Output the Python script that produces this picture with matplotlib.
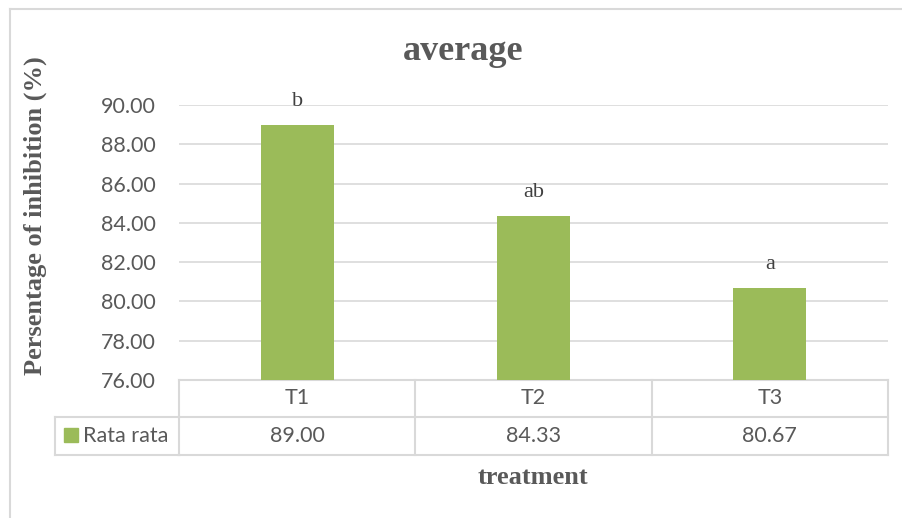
import matplotlib
matplotlib.use("Agg")
import matplotlib.pyplot as plt
import matplotlib.transforms as mtransforms
from matplotlib.patches import Rectangle
from matplotlib.lines import Line2D

categories = ["T1", "T2", "T3"]
values = [89.00, 84.33, 80.67]
letters = ["b", "ab", "a"]
series_name = "Rata rata"
yticks = [76, 78, 80, 82, 84, 86, 88, 90]

GREEN = "#9BBB59"
GRID = "#D9D9D9"
TXT = "#595959"
SERIF = "Liberation Serif"
SANS = "Lato"

W, H = 902, 518
fig = plt.figure(figsize=(W / 100, H / 100), dpi=100)


def fx(px):
    return px / W


def fy(py):
    return 1 - py / H


# outer chart frame (only top and left edges visible)
fig.add_artist(Line2D([fx(10), 1.0], [fy(9), fy(9)], color=GRID, lw=1.5))
fig.add_artist(Line2D([fx(10), fx(10)], [fy(9), 0.0], color=GRID, lw=1.5))

ax = fig.add_axes([fx(179), fy(380), fx(888) - fx(179), fy(105) - fy(380)])
x = list(range(len(categories)))
ax.bar(x, values, width=0.31, color=GREEN, zorder=3)
ax.set_xlim(-0.5, len(categories) - 0.5)
ax.set_ylim(yticks[0], yticks[-1])
ax.set_yticks(yticks)
ax.set_yticklabels([f"{v:.2f}" for v in yticks], fontsize=15.5, color=TXT, family=SANS)
ax.tick_params(axis="y", length=0, pad=17)
ax.set_xticks([])
ax.grid(axis="y", color=GRID, lw=1.2, zorder=0)
for s in ax.spines.values():
    s.set_visible(False)

for xi, v, lab in zip(x, values, letters):
    ax.annotate(lab, (xi, v), xytext=(0, 17), textcoords="offset points",
                ha="center", va="center", fontsize=16, color="#404040", family=SERIF)

# data table under the axis
tr = mtransforms.blended_transform_factory(ax.transData, ax.transAxes)
ah = 380 - 105
r0, r1, r2 = 0.0, -(417 - 380) / ah, -(455 - 380) / ah
edges = [-0.5 + i for i in range(len(categories) + 1)]
lkw = dict(color=GRID, lw=1.5, clip_on=False, transform=tr)
ax.plot([edges[0], edges[-1]], [r0, r0], **lkw)
for yy in (r1, r2):
    ax.plot([edges[0], edges[-1]], [yy, yy], **lkw)
for e in edges:
    ax.plot([e, e], [r0, r2], **lkw)
for xi, c, v in zip(x, categories, values):
    ax.text(xi, (r0 + r1) / 2, c, transform=tr, ha="center", va="center",
            fontsize=15.5, color=TXT, family=SANS)
    ax.text(xi, (r1 + r2) / 2, f"{v:.2f}", transform=tr, ha="center", va="center",
            fontsize=15.5, color=TXT, family=SANS)

# legend cell
fig.add_artist(Line2D([fx(55), fx(179)], [fy(417), fy(417)], color=GRID, lw=1.5))
fig.add_artist(Line2D([fx(55), fx(179)], [fy(455), fy(455)], color=GRID, lw=1.5))
fig.add_artist(Line2D([fx(55), fx(55)], [fy(417), fy(455)], color=GRID, lw=1.5))
fig.add_artist(Rectangle((fx(64), fy(442)), fx(14), fy(428) - fy(442), color=GREEN))
fig.text(fx(83), fy(436), series_name, ha="left", va="center", fontsize=15.5,
         color=TXT, family=SANS)

fig.text(fx(463), fy(52), "average", ha="center", va="center", fontsize=26,
         fontweight="bold", color=TXT, family=SERIF)
fig.text(fx(533), fy(477), "treatment", ha="center", va="center", fontsize=19,
         fontweight="bold", color=TXT, family=SERIF)
fig.text(fx(35), fy(216), "Persentage of inhibition (%)", ha="center", va="center",
         rotation=90, fontsize=19, fontweight="bold", color=TXT, family=SERIF)

fig.savefig("out.png", dpi=100)
